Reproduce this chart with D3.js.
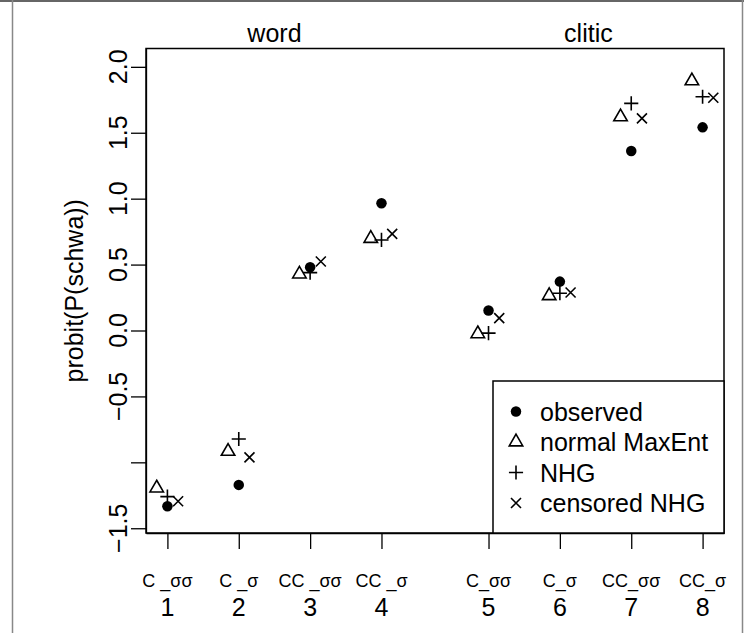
<!DOCTYPE html>
<html lang="en">
<head>
  <meta charset="UTF-8">
  <title>probit(P(schwa)) by context</title>
  <script src="https://d3js.org/d3.v7.min.js"></script>
  <style>
    body {
      margin: 0;
      background: #fff;
    }

    svg {
      display: block;
      font-family: "Liberation Sans", Arial, sans-serif;
    }

    .mark {
      fill: none;
      stroke: #000;
      stroke-width: 1.6px;
    }
  </style>
</head>
<body>
  <svg width="744" height="633"></svg>

  <script>
    // x positions of the eight contexts (clitic group shifted by half a unit)
    const positions = [1, 2, 3, 4, 5.5, 6.5, 7.5, 8.5];
    const tickNums = ["1", "2", "3", "4", "5", "6", "7", "8"];
    const contexts = ["C _σσ", "C _σ", "CC _σσ", "CC _σ", "C_σσ", "C_σ", "CC_σσ", "CC_σ"];
    const groupNames = ["word", "clitic"];
    const groupCentres = [2.5, 6.9];

    const yTicks = [-1.5, -1.0, -0.5, 0.0, 0.5, 1.0, 1.5, 2.0];
    const yTickLabels = ["−1.5", "", "−0.5", "0.0", "0.5", "1.0", "1.5", "2.0"];

    const observed = [-1.333, -1.171, 0.480, 0.965, 0.152, 0.371, 1.361, 1.541];
    const maxent   = [-1.195, -0.917, 0.428, 0.698, -0.025, 0.264, 1.620, 1.893];
    const nhg      = [-1.260, -0.823, 0.439, 0.687, -0.020, 0.283, 1.723, 1.773];
    const censored = [-1.295, -0.962, 0.523, 0.733, 0.094, 0.288, 1.609, 1.765];

    const seriesNames = ["observed", "normal MaxEnt", "NHG", "censored NHG"];

    const svg = d3.select("svg");
    const box = { left: 146, right: 724, top: 48.5, bottom: 533 };

    const x = d3.scaleLinear().domain([0.7, 8.8]).range([box.left, box.right]);
    const y = d3.scaleLinear().domain([-1.536, 2.139]).range([box.bottom, box.top]);

    // outer frame of the figure
    svg.append("line").attr("x1", 0).attr("x2", 744).attr("y1", 1).attr("y2", 1)
      .attr("stroke", "#333").attr("stroke-width", 1.5);
    svg.append("line").attr("x1", 12.5).attr("x2", 12.5).attr("y1", 0).attr("y2", 633)
      .attr("stroke", "#888").attr("stroke-width", 1.5);
    svg.append("line").attr("x1", 742.5).attr("x2", 742.5).attr("y1", 0).attr("y2", 633)
      .attr("stroke", "#888").attr("stroke-width", 1.5);

    // R-style glyphs, r = symbol radius
    const r0 = 5;
    function drawGlyph(g, type, cx, cy) {
      if (type === 0) {
        g.append("circle").attr("cx", cx).attr("cy", cy).attr("r", r0 * 1.05).attr("fill", "#000");
      } else if (type === 1) {
        const s = r0 * 1.5551, xc = s * Math.sqrt(3) / 2, yc = s / 2;
        g.append("path").attr("class", "mark")
          .attr("d", `M${cx},${cy - s}L${cx + xc},${cy + yc}L${cx - xc},${cy + yc}Z`);
      } else if (type === 2) {
        const a = r0 * Math.SQRT2;
        g.append("path").attr("class", "mark")
          .attr("d", `M${cx - a},${cy}H${cx + a}M${cx},${cy - a}V${cy + a}`);
      } else {
        const a = r0;
        g.append("path").attr("class", "mark")
          .attr("d", `M${cx - a},${cy - a}L${cx + a},${cy + a}M${cx - a},${cy + a}L${cx + a},${cy - a}`);
      }
    }

    // y axis
    const yAxis = svg.append("g")
      .attr("transform", `translate(${box.left},0)`)
      .call(d3.axisLeft(y).tickValues(yTicks).tickSize(15).tickFormat("").tickSizeOuter(0));
    yAxis.select(".domain").attr("stroke", "#000").attr("stroke-width", 1.3);
    yAxis.selectAll(".tick line").attr("stroke", "#000").attr("stroke-width", 1.3);

    svg.append("g").selectAll("text")
      .data(yTicks)
      .join("text")
      .attr("transform", d => `translate(127,${y(d)}) rotate(-90)`)
      .attr("text-anchor", "middle")
      .attr("font-size", 25)
      .text((d, i) => yTickLabels[i]);

    svg.append("text")
      .attr("transform", `translate(83,${(box.top + box.bottom) / 2}) rotate(-90)`)
      .attr("text-anchor", "middle")
      .attr("font-size", 25)
      .text("probit(P(schwa))");

    // x axis
    const xAxis = svg.append("g")
      .attr("transform", `translate(0,${box.bottom})`)
      .call(d3.axisBottom(x).tickValues(positions).tickSize(16).tickFormat("").tickSizeOuter(0));
    xAxis.select(".domain").attr("stroke", "#000").attr("stroke-width", 1.3);
    xAxis.selectAll(".tick line").attr("stroke", "#000").attr("stroke-width", 1.3);

    svg.append("g").selectAll("text")
      .data(positions)
      .join("text")
      .attr("x", d => x(d))
      .attr("y", 587)
      .attr("text-anchor", "middle")
      .attr("font-size", 18)
      .text((d, i) => contexts[i]);

    svg.append("g").selectAll("text")
      .data(positions)
      .join("text")
      .attr("x", d => x(d))
      .attr("y", 616)
      .attr("text-anchor", "middle")
      .attr("font-size", 25)
      .text((d, i) => tickNums[i]);

    // group titles
    svg.append("g").selectAll("text")
      .data(groupCentres)
      .join("text")
      .attr("x", d => x(d))
      .attr("y", 42)
      .attr("text-anchor", "middle")
      .attr("font-size", 25)
      .text((d, i) => groupNames[i]);

    // plot box
    svg.append("rect")
      .attr("x", box.left).attr("y", box.top)
      .attr("width", box.right - box.left).attr("height", box.bottom - box.top)
      .attr("fill", "none").attr("stroke", "#000").attr("stroke-width", 1.5);

    // points
    const series = [
      { values: observed, dx: 0 },
      { values: maxent, dx: -0.15 },
      { values: nhg, dx: 0 },
      { values: censored, dx: 0.15 }
    ];
    const pts = svg.append("g");
    series.forEach((s, k) => {
      s.values.forEach((v, i) => drawGlyph(pts, k, x(positions[i] + s.dx), y(v)));
    });

    // legend
    const leg = { left: 493, top: 381, right: box.right, bottom: box.bottom };
    svg.append("rect")
      .attr("x", leg.left).attr("y", leg.top)
      .attr("width", leg.right - leg.left).attr("height", leg.bottom - leg.top)
      .attr("fill", "#fff").attr("stroke", "#000").attr("stroke-width", 1.5);
    const lg = svg.append("g");
    seriesNames.forEach((name, k) => {
      const cy = 411.5 + k * 30.5;
      drawGlyph(lg, k, 516, cy);
      lg.append("text")
        .attr("x", 540).attr("y", cy + 9)
        .attr("font-size", 25)
        .text(name);
    });
  </script>
</body>
</html>
